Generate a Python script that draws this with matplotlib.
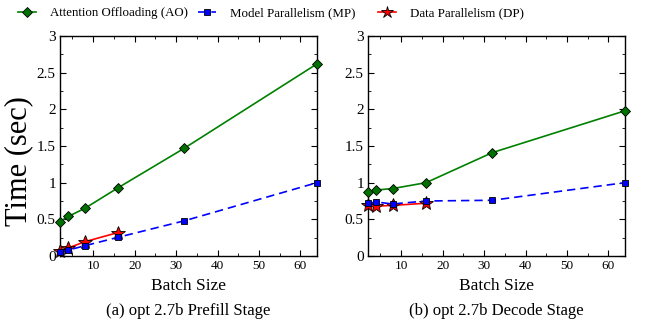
import matplotlib
matplotlib.use("Agg")
import matplotlib.pyplot as plt
from matplotlib.ticker import MultipleLocator
from matplotlib.lines import Line2D

plt.rcParams['font.family'] = ['Liberation Serif', 'DejaVu Serif']
plt.rcParams['mathtext.fontset'] = 'stix'

batch = [2, 4, 8, 16, 32, 64]
batch_dp = [2, 4, 8, 16]

prefill_ao = [0.47, 0.54, 0.65, 0.93, 1.47, 2.62]
prefill_mp = [0.06, 0.08, 0.14, 0.255, 0.48, 1.0]
prefill_dp = [0.07, 0.11, 0.195, 0.32]

decode_ao = [0.87, 0.90, 0.92, 1.00, 1.41, 1.98]
decode_mp = [0.72, 0.735, 0.71, 0.75, 0.76, 1.0]
decode_dp = [0.70, 0.68, 0.69, 0.72]

labels = ['Attention Offloading (AO)', 'Model Parallelism (MP)', 'Data Parallelism (DP)']
captions = ['(a) opt 2.7b Prefill Stage', '(b) opt 2.7b Decode Stage']
yticks = [0, 0.5, 1, 1.5, 2, 2.5, 3]
ytick_labels = ['0', '0.5', '1', '1.5', '2', '2.5', '3']

fig = plt.figure(figsize=(6.62, 3.22), dpi=100)
W, H = 662, 322
ax1 = fig.add_axes([60 / W, 1 - 256 / H, 257 / W, 220 / H])
ax2 = fig.add_axes([368 / W, 1 - 256 / H, 257 / W, 220 / H])

for ax, ao, mp, dp, cap in [(ax1, prefill_ao, prefill_mp, prefill_dp, captions[0]),
                            (ax2, decode_ao, decode_mp, decode_dp, captions[1])]:
    ax.plot(batch, ao, color='#008000', lw=1.2, marker='D', ms=5,
            mfc='#007000', mec='black', mew=0.6, clip_on=False, zorder=3)
    ax.plot(batch, mp, color='#0000ff', lw=1.2, ls=(0, (5, 3)), marker='s', ms=5,
            mfc='#0000ff', mec='black', mew=0.6, clip_on=False, zorder=4)
    ax.plot(batch_dp, dp, color='#ff0000', lw=1.2, marker='*', ms=10,
            mfc='#ff0000', mec='black', mew=0.6, clip_on=False, zorder=3)
    ax.set_xlim(2, 64)
    ax.set_ylim(0, 3)
    ax.xaxis.set_major_locator(MultipleLocator(10))
    ax.xaxis.set_minor_locator(MultipleLocator(5))
    ax.yaxis.set_minor_locator(MultipleLocator(0.25))
    ax.set_yticks(yticks)
    ax.set_yticklabels(ytick_labels)
    ax.tick_params(which='both', direction='in', top=True, right=True)
    ax.tick_params(which='major', length=4)
    ax.tick_params(which='minor', length=2)
    ax.tick_params(axis='y', labelsize=11, pad=3)
    ax.tick_params(axis='x', labelsize=9.5, pad=3)
    for s in ax.spines.values():
        s.set_linewidth(1.0)
    ax.set_xlabel('Batch Size', fontsize=12.5, labelpad=4)
    ax.text(0.5, -0.25, cap, transform=ax.transAxes, ha='center', va='center', fontsize=12)

ax1.set_ylabel('Time (sec)', fontsize=22)
ax1.yaxis.set_label_coords(-0.105, 0.432)

handles = [
    Line2D([], [], color='#008000', lw=1.2, marker='D', ms=5, mfc='#007000', mec='black', mew=0.6),
    Line2D([], [], color='#0000ff', lw=1.2, ls=(0, (5, 3)), marker='s', ms=5, mfc='#0000ff', mec='black', mew=0.6),
    Line2D([], [], color='#ff0000', lw=1.2, marker='*', ms=9, mfc='#ff0000', mec='black', mew=0.6),
]
# legend entries placed individually (handle left edges in pixels)
handle_x = [18, 198, 378]
for h, lab, hx in zip(handles, labels, handle_x):
    fig.legend([h], [lab], loc='upper left', bbox_to_anchor=(hx / W, 1 - 7 / H),
               frameon=False, fontsize=9.3, handlelength=1.4, handletextpad=1.1,
               borderpad=0, borderaxespad=0)

fig.savefig('out.png', dpi=100)
